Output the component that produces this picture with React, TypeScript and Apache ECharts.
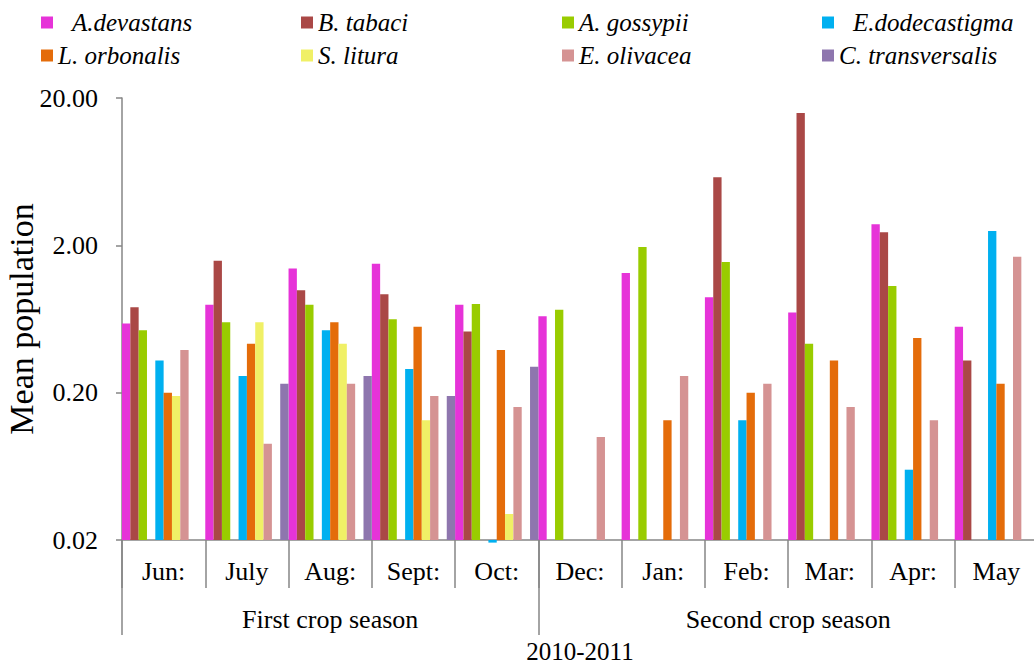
import React, { useEffect, useRef } from "react";
import * as echarts from "echarts";

const months = ["Jun:", "July", "Aug:", "Sept:", "Oct:", "Dec:", "Jan:", "Feb:", "Mar:", "Apr:", "May"];
const seasons = ["First crop season", "Second crop season"];
const seasonLabelPos = [2.5, 8];
const seasonTickPos = [0, 5, 11];
const yTickLabels = ["0.02", "0.20", "2.00", "20.00"];
const yBase = 0.02;

const aDevastans = [0.59, 0.79, 1.39, 1.5, 0.79, 0.66, 1.3, 0.89, 0.7, 2.78, 0.56];
const bTabaci = [0.76, 1.57, 0.99, 0.93, 0.52, null, null, 5.8, 15.8, 2.45, 0.33];
const aGossypii = [0.53, 0.6, 0.79, 0.63, 0.8, 0.73, 1.95, 1.54, 0.43, 1.06, null];
const eDodecastigma = [0.33, 0.26, 0.53, 0.29, 0.0192, null, null, 0.13, null, 0.06, 2.5];
const lOrbonalis = [0.2, 0.43, 0.6, 0.56, 0.39, null, 0.13, 0.2, 0.33, 0.47, 0.23];
const sLitura = [0.19, 0.6, 0.43, 0.13, 0.03, null, null, null, null, null, null];
const eOlivacea = [0.39, 0.09, 0.23, 0.19, 0.16, 0.1, 0.26, 0.23, 0.16, 0.13, 1.67];
const cTransversalis = [null, 0.23, 0.26, 0.19, 0.3, null, null, null, null, null, null];

const FONT = "'Liberation Serif', 'Times New Roman', Times, serif";
const AXIS = "#868686";

type S = { name: string; data: (number | null)[] | null; color: string };

// slot order inside each month group (two empty slots as in the original)
const slots: S[] = [
  { name: "A.devastans", data: aDevastans, color: "#E633D8" },
  { name: "B. tabaci", data: bTabaci, color: "#AA4846" },
  { name: "A. gossypii", data: aGossypii, color: "#99CC00" },
  { name: "gap1", data: null, color: "#ffffff" },
  { name: "E.dodecastigma", data: eDodecastigma, color: "#00B0F0" },
  { name: "L. orbonalis", data: lOrbonalis, color: "#E46C0A" },
  { name: "S. litura", data: sLitura, color: "#F0F066" },
  { name: "E. olivacea", data: eOlivacea, color: "#D59393" },
  { name: "gap2", data: null, color: "#ffffff" },
  { name: "C. transversalis", data: cTransversalis, color: "#8E76AE" },
];

const legendLayout = [
  { name: "A.devastans", left: 41, top: 10, pad: 14 },
  { name: "B. tabaci", left: 301, top: 10, pad: 0 },
  { name: "A. gossypii", left: 562, top: 10, pad: 0 },
  { name: "E.dodecastigma", left: 822, top: 10, pad: 14 },
  { name: "L. orbonalis", left: 41, top: 43, pad: 0 },
  { name: "S. litura", left: 301, top: 43, pad: 0 },
  { name: "E. olivacea", left: 562, top: 43, pad: 0 },
  { name: "C. transversalis", left: 822, top: 43, pad: 0 },
];

export default function App() {
  const ref = useRef<HTMLDivElement>(null);
  useEffect(() => {
    if (!ref.current) return;
    const chart = echarts.init(ref.current, null, { renderer: "svg" });
    const series = slots.map((s) => ({
      name: s.name,
      type: "bar",
      data: s.data ? s.data.map((v) => (v == null ? null : Math.log10(v / yBase))) : [],
      itemStyle: { color: s.color },
      barGap: "0%",
      barCategoryGap: "0%",
      clip: false,
    }));
    chart.setOption({
      animation: false,
      backgroundColor: "#ffffff",
      textStyle: { fontFamily: FONT },
      legend: legendLayout.map((l) => ({
        data: [l.name],
        left: l.left,
        top: l.top,
        padding: 0,
        itemWidth: 12,
        itemHeight: 12,
        icon: "rect",
        selectedMode: false,
        textStyle: {
          fontFamily: FONT,
          fontStyle: "italic",
          fontSize: 25,
          color: "#000",
          padding: [0, 0, 0, l.pad],
        },
      })),
      grid: { left: 122, right: -4, top: 98, bottom: 127, outerBoundsMode: "none", containLabel: false },
      xAxis: [
        {
          type: "category",
          data: months,
          axisLine: { lineStyle: { color: AXIS, width: 1.5 } },
          axisTick: { show: true, length: 48, lineStyle: { color: AXIS, width: 1.5 } },
          axisLabel: { interval: 0, margin: 18, fontFamily: FONT, fontSize: 26, color: "#000" },
          splitLine: { show: false },
        },
        {
          type: "value",
          position: "bottom",
          min: 0,
          max: 11,
          axisLine: { show: false },
          splitLine: { show: false },
          axisTick: {
            show: true,
            customValues: seasonTickPos,
            length: 95,
            lineStyle: { color: AXIS, width: 1.5 },
          },
          axisLabel: {
            customValues: seasonLabelPos,
            formatter: (v: number) => seasons[seasonLabelPos.indexOf(v)] ?? "",
            margin: 66,
            fontFamily: FONT,
            fontSize: 26,
            color: "#000",
          },
          name: "2010-2011",
          nameLocation: "middle",
          nameGap: 99,
          nameMoveOverlap: false,
          nameTextStyle: { fontFamily: FONT, fontSize: 25, color: "#000" },
        },
      ],
      yAxis: {
        type: "value",
        min: 0,
        max: 3,
        interval: 1,
        name: "Mean population",
        nameLocation: "middle",
        nameGap: 84,
        nameMoveOverlap: false,
        nameTextStyle: { fontFamily: FONT, fontSize: 34, color: "#000" },
        axisLine: { show: true, lineStyle: { color: AXIS, width: 1.5 } },
        axisTick: { show: true, length: 6, lineStyle: { color: AXIS, width: 1.5 } },
        axisLabel: {
          margin: 24,
          fontFamily: FONT,
          fontSize: 26,
          color: "#000",
          formatter: (v: number) => yTickLabels[Math.round(v)] ?? "",
        },
        splitLine: { show: false },
      },
      series,
    });
    return () => chart.dispose();
  }, []);
  return <div ref={ref} style={{ position: "absolute", left: 0, top: 0, width: 1034, height: 667 }} />;
}
